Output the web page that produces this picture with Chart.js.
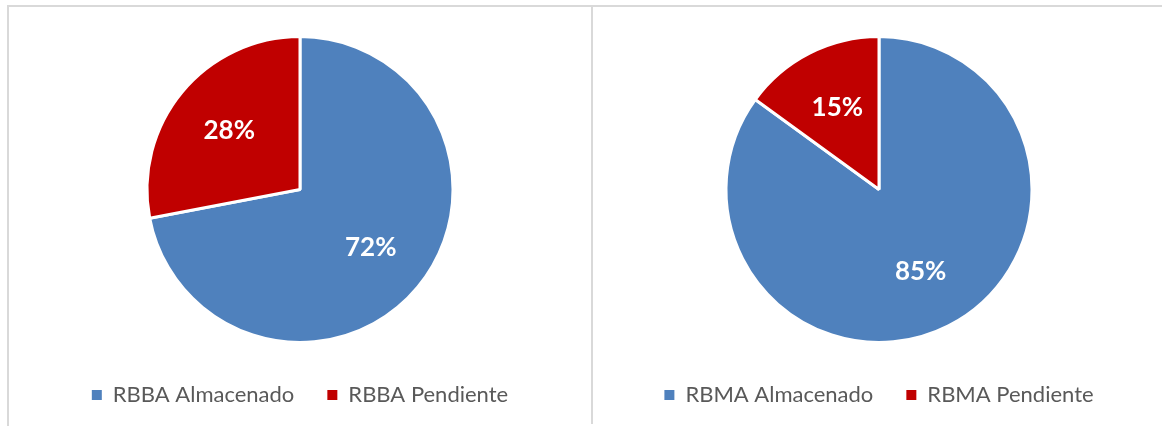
<!DOCTYPE html>
<html>
<head>
<meta charset="utf-8">
<script src="https://cdn.jsdelivr.net/npm/chart.js@4/dist/chart.umd.min.js"></script>
<style>
  html, body { margin: 0; padding: 0; background: #fff; }
  #page { position: relative; width: 1162px; height: 426px; overflow: hidden; }
  .line { position: absolute; background: #d9d9d9; }
  canvas { position: absolute; top: 0; }
</style>
</head>
<body>
<div id="page">
  <canvas id="pieLeft" width="580" height="426" style="left:10px"></canvas>
  <canvas id="pieRight" width="566" height="426" style="left:596px"></canvas>
  <div class="line" style="left:7px; top:5px; width:1155px; height:2px"></div>
  <div class="line" style="left:7px; top:5px; width:2px; height:421px"></div>
  <div class="line" style="left:591px; top:5px; width:2px; height:419px"></div>
</div>
<script>
const leftLabels  = ['RBBA Almacenado', 'RBBA Pendiente'];
const leftValues  = [72, 28];
const rightLabels = ['RBMA Almacenado', 'RBMA Pendiente'];
const rightValues = [85, 15];
const sliceColors = ['#4F81BD', '#C00000'];

// percentage labels drawn inside each slice
const pctLabels = {
  id: 'pctLabels',
  afterDatasetsDraw(chart) {
    const ctx = chart.ctx;
    const meta = chart.getDatasetMeta(0);
    const values = chart.data.datasets[0].data;
    ctx.save();
    ctx.fillStyle = '#ffffff';
    ctx.font = 'bold 26px Lato';
    ctx.textAlign = 'center';
    ctx.textBaseline = 'middle';
    meta.data.forEach((arc, i) => {
      const { x, y, startAngle, endAngle, outerRadius } =
        arc.getProps(['x', 'y', 'startAngle', 'endAngle', 'outerRadius'], true);
      const mid = (startAngle + endAngle) / 2;
      const r = outerRadius * 0.6;
      ctx.fillText(values[i] + '%', x + Math.cos(mid) * r, y + Math.sin(mid) * r);
    });
    ctx.restore();
  }
};

function renderPie(id, labels, values) {
  new Chart(document.getElementById(id), {
    type: 'pie',
    data: {
      labels,
      datasets: [{
        data: values,
        backgroundColor: sliceColors,
        borderColor: '#ffffff',
        borderWidth: 3,
        radius: 153
      }]
    },
    options: {
      responsive: false,
      animation: false,
      layout: { padding: { top: 28, bottom: 10 } },
      plugins: {
        legend: {
          position: 'bottom',
          labels: {
            boxWidth: 10,
            boxHeight: 10,
            padding: 33,
            color: '#595959',
            font: { family: 'Lato', size: 22 },
            generateLabels(chart) {
              const items = Chart.overrides.pie.plugins.legend.labels.generateLabels(chart);
              items.forEach(it => { it.lineWidth = 0; it.strokeStyle = it.fillStyle; });
              return items;
            }
          }
        },
        tooltip: { enabled: false }
      }
    },
    plugins: [pctLabels]
  });
}

renderPie('pieLeft', leftLabels, leftValues);
renderPie('pieRight', rightLabels, rightValues);
</script>
</body>
</html>
